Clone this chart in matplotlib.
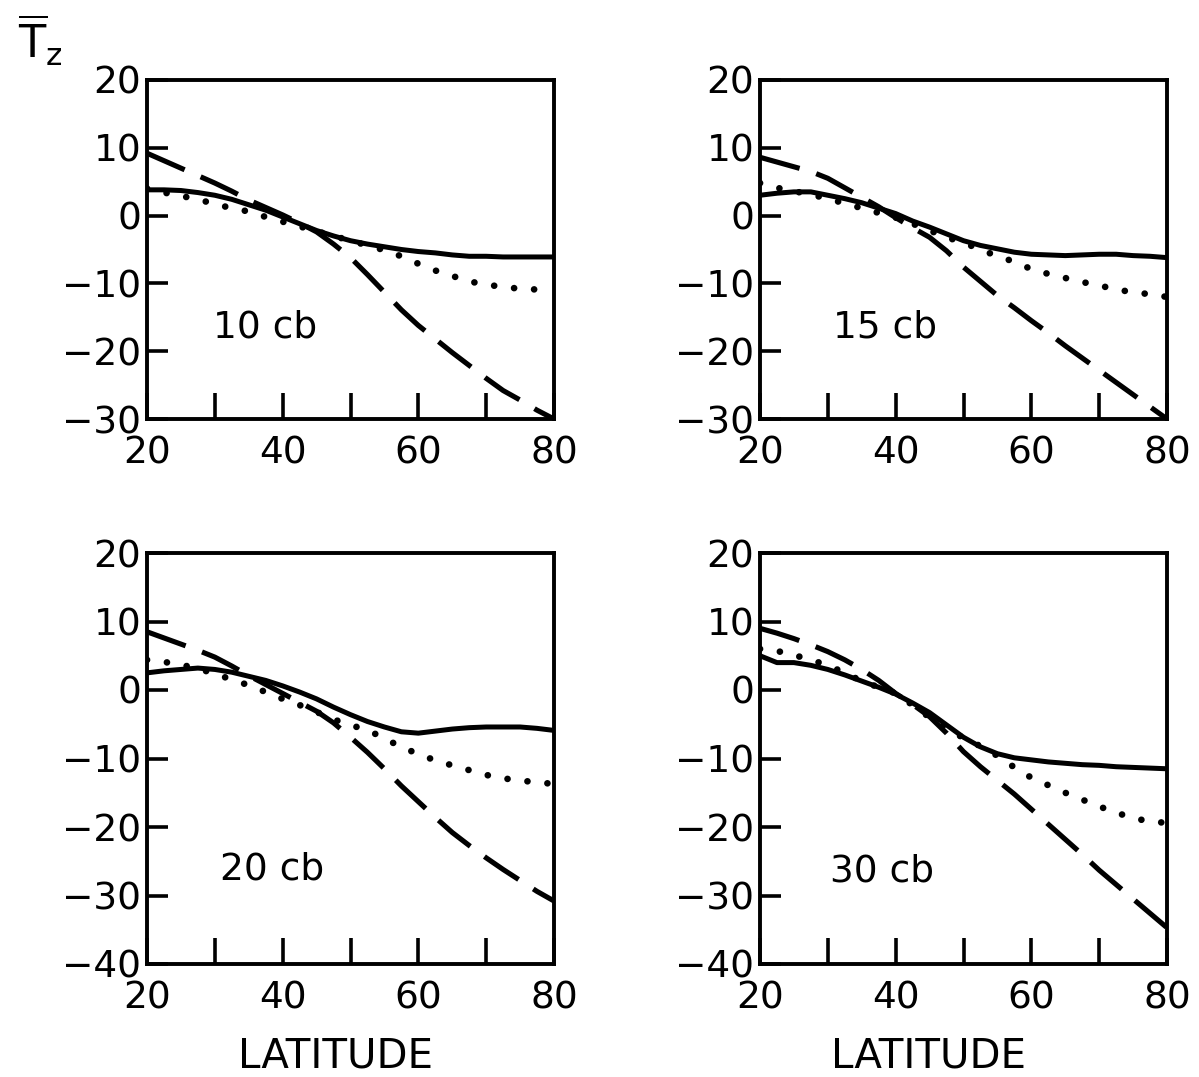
import matplotlib
matplotlib.use("Agg")
import matplotlib.pyplot as plt

# Latitude grid (degrees)
lat = [20, 22.5, 25, 27.5, 30, 32.5, 35, 37.5, 40, 42.5, 45, 47.5, 50,
       52.5, 55, 57.5, 60, 62.5, 65, 67.5, 70, 72.5, 75, 77.5, 80]

# Zonal-mean temperature deviation T_z at four pressure levels
solid_10 = [3.8, 3.8, 3.7, 3.4, 3.0, 2.4, 1.6, 0.8, -0.2, -1.2, -2.2, -3.0, -3.7,
            -4.2, -4.6, -5.0, -5.3, -5.5, -5.8, -6.0, -6.0, -6.1, -6.1, -6.1, -6.1]
dotted_10 = [4.0, 3.4, 2.9, 2.4, 1.7, 1.1, 0.6, -0.2, -0.9, -1.6, -2.3, -3.0, -3.7,
             -4.4, -5.1, -6.0, -7.1, -8.1, -8.9, -9.7, -10.2, -10.5, -10.8, -10.9, -10.7]
dashed_10 = [9.2, 8.1, 7.0, 5.9, 4.8, 3.6, 2.3, 1.2, 0.1, -1.1, -2.4, -4.2, -6.2,
             -8.7, -11.3, -13.9, -16.2, -18.2, -20.2, -22.1, -24.0, -25.8, -27.2, -28.7, -30.0]

solid_15 = [3.0, 3.3, 3.5, 3.5, 3.0, 2.5, 1.9, 1.1, 0.3, -0.8, -1.7, -2.7, -3.7,
            -4.4, -4.9, -5.4, -5.7, -5.8, -5.9, -5.8, -5.7, -5.7, -5.9, -6.0, -6.2]
dotted_15 = [4.8, 4.1, 3.6, 3.1, 2.5, 1.8, 1.1, 0.4, -0.3, -1.2, -2.2, -3.2, -4.0,
             -5.0, -6.0, -6.8, -7.9, -8.6, -9.2, -9.8, -10.3, -10.9, -11.3, -11.6, -12.0]
dashed_15 = [8.6, 7.9, 7.2, 6.5, 5.5, 4.1, 2.7, 1.3, -0.3, -1.8, -3.2, -5.2, -7.6,
             -9.7, -11.8, -13.6, -15.5, -17.3, -19.2, -21.0, -22.8, -24.6, -26.4, -28.2, -30.0]

solid_20 = [2.5, 2.8, 3.0, 3.2, 3.0, 2.6, 2.0, 1.4, 0.6, -0.3, -1.3, -2.5, -3.6,
            -4.6, -5.4, -6.1, -6.3, -6.0, -5.7, -5.5, -5.4, -5.4, -5.4, -5.6, -5.9]
dotted_20 = [4.4, 4.1, 3.7, 3.1, 2.4, 1.5, 0.7, -0.3, -1.3, -2.2, -3.2, -4.3, -5.1,
             -5.9, -7.0, -8.4, -9.3, -10.3, -11.0, -11.7, -12.4, -12.9, -13.2, -13.5, -13.7]
dashed_20 = [8.5, 7.6, 6.7, 5.8, 4.8, 3.5, 2.1, 0.8, -0.5, -1.8, -3.1, -4.8, -6.9,
             -9.1, -11.5, -14.0, -16.3, -18.6, -20.8, -22.7, -24.5, -26.2, -27.8, -29.4, -30.8]

solid_30 = [5.0, 4.0, 4.0, 3.6, 3.0, 2.2, 1.3, 0.4, -0.6, -1.9, -3.3, -5.1, -6.9,
            -8.3, -9.3, -9.9, -10.2, -10.5, -10.7, -10.9, -11.0, -11.2, -11.3, -11.4, -11.5]
dotted_30 = [6.0, 5.7, 5.1, 4.4, 3.6, 2.5, 1.3, 0.4, -0.5, -2.2, -4.0, -5.6, -7.0,
             -8.2, -9.6, -11.3, -12.8, -13.9, -15.0, -16.0, -17.0, -17.9, -18.7, -19.2, -19.4]
dashed_30 = [9.0, 8.3, 7.5, 6.6, 5.6, 4.4, 3.0, 1.4, -0.5, -2.1, -3.9, -6.3, -9.0,
             -11.2, -13.2, -15.2, -17.4, -19.6, -21.8, -24.0, -26.3, -28.4, -30.5, -32.6, -34.7]

levels = ["10 cb", "15 cb", "20 cb", "30 cb"]
solids = [solid_10, solid_15, solid_20, solid_30]
dotteds = [dotted_10, dotted_15, dotted_20, dotted_30]
dasheds = [dashed_10, dashed_15, dashed_20, dashed_30]
ylims = [(-30, 20), (-30, 20), (-40, 20), (-40, 20)]
xticks = [20, 40, 60, 80]

MINUS = "\u2212"


def fmt(v):
    return (MINUS + str(-v)) if v < 0 else str(v)


W, H = 1199, 1077
plt.rcParams["font.family"] = ["DejaVu Sans"]
fig = plt.figure(figsize=(W / 100, H / 100), dpi=100)

# panel boxes in pixels: left, right, top, bottom
boxes = [(147, 554, 80, 419), (760, 1167, 80, 419),
         (147, 554, 553, 964), (760, 1167, 553, 964)]
label_pos = [(265, 328), (885, 328), (272, 870), (882, 872)]

for i, (l, r, t, b) in enumerate(boxes):
    ax = fig.add_axes([l / W, 1 - b / H, (r - l) / W, (b - t) / H])
    ax.plot(lat, solids[i], color="black", lw=3.6,
            solid_capstyle="round", solid_joinstyle="round")
    ax.plot(lat, dotteds[i], color="black", lw=4.8,
            linestyle=(0, (0.01, 3.0)), dash_capstyle="round")
    ax.plot(lat, dasheds[i], color="black", lw=3.7,
            linestyle=(0, (8.0, 3.4)), dash_capstyle="butt")
    ax.set_xlim(20, 80)
    lo, hi = ylims[i]
    ax.set_ylim(lo, hi)
    yt = list(range(lo, hi + 1, 10))
    ax.set_yticks(yt)
    ax.set_yticklabels([fmt(v) for v in yt])
    ax.set_xticks(xticks)
    ax.set_xticklabels([str(v) for v in xticks])
    ax.set_xticks([30, 50, 70], minor=True)
    ax.tick_params(axis="both", which="both", direction="in", width=2.6,
                   labelsize=27, top=False, right=False)
    ax.tick_params(axis="y", which="major", length=15, pad=4)
    ax.tick_params(axis="x", which="both", length=19, pad=12)
    for s in ax.spines.values():
        s.set_linewidth(2.8)
    lx, ly = label_pos[i]
    fig.text(lx / W, 1 - ly / H, levels[i], fontsize=27,
             ha="center", va="center")

fig.text(40 / W, 1 - 40 / H, r"$\overline{\mathrm{T}}_{\mathrm{z}}$",
         fontsize=32, ha="center", va="center")
fig.text(335 / W, 1 - 1057 / H, "LATITUDE", fontsize=29,
         ha="center", va="center")
fig.text(928 / W, 1 - 1057 / H, "LATITUDE", fontsize=29,
         ha="center", va="center")

fig.savefig("out.png", dpi=100)
